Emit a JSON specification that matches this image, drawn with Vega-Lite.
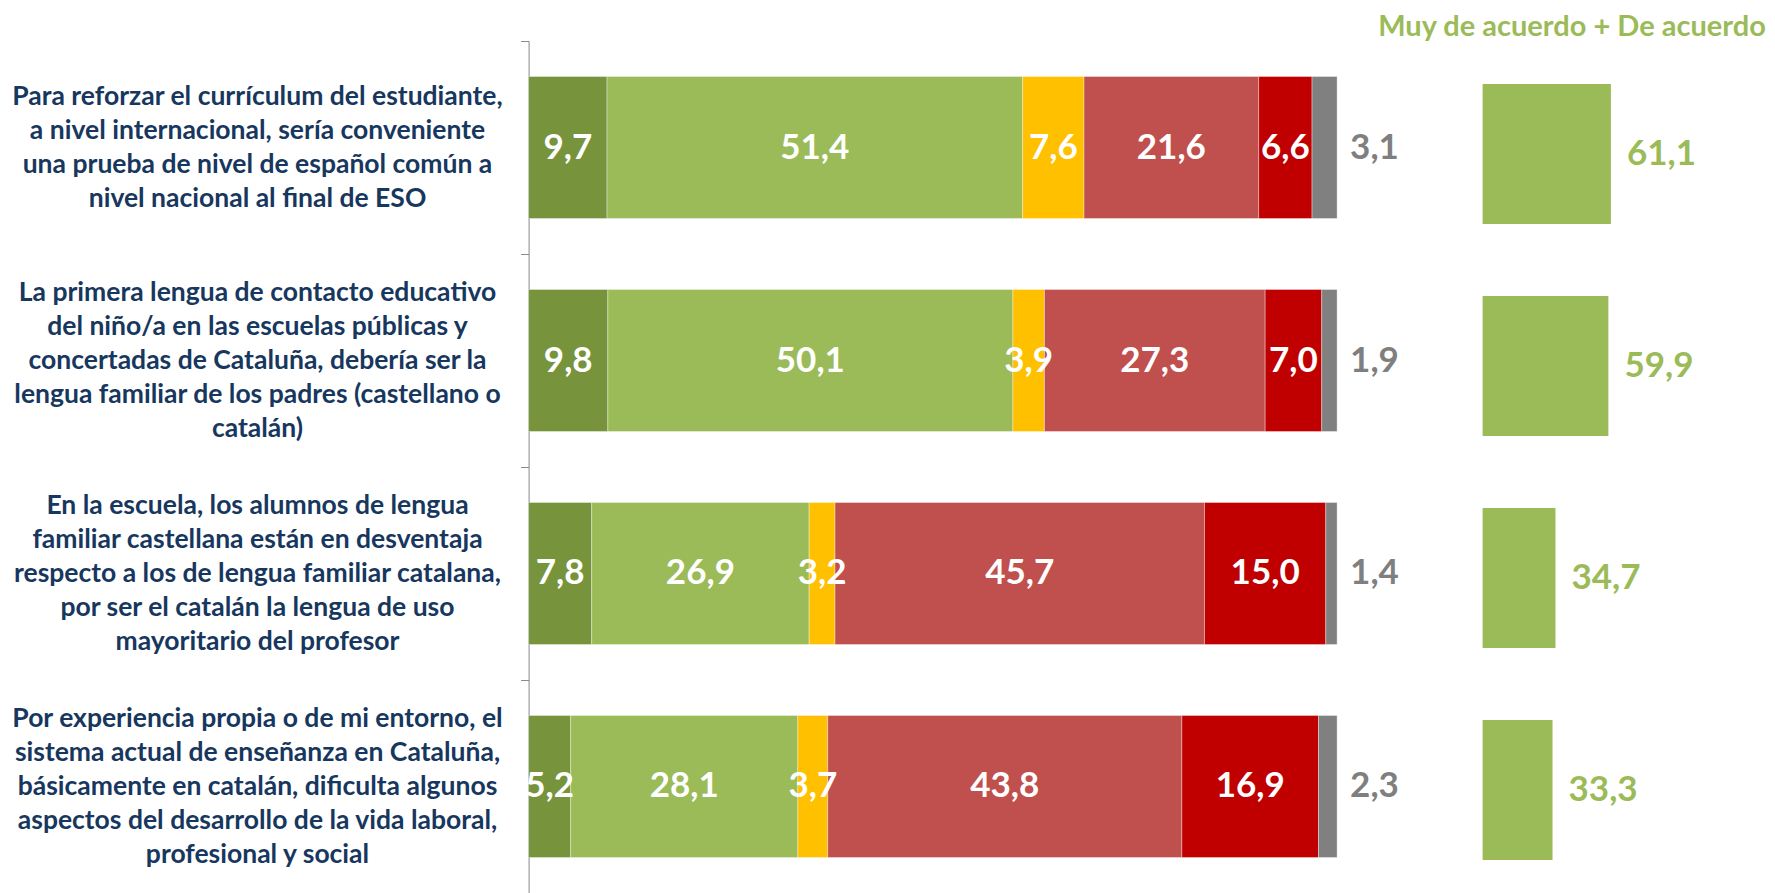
{
  "$schema": "https://vega.github.io/schema/vega-lite/v6.json",
  "autosize": {"type": "none"},
  "width": 808.5,
  "height": 852,
  "padding": {"left": 528.6, "top": 41, "right": 437.9, "bottom": 0},
  "background": "#ffffff",
  "config": {
    "view": {"stroke": null},
    "axis": {"grid": false},
    "locale": {"number": {"decimal": ",", "thousands": ".", "grouping": [3], "currency": ["", " €"]}}
  },
  "datasets": {
    "main": [
      {"item": "Para reforzar el currículum del estudiante,|a nivel internacional, sería conveniente|una prueba de nivel de español común a|nivel nacional al final de ESO", "cat": "Muy de acuerdo", "k": 1, "value": 9.7},
      {"item": "Para reforzar el currículum del estudiante,|a nivel internacional, sería conveniente|una prueba de nivel de español común a|nivel nacional al final de ESO", "cat": "De acuerdo", "k": 2, "value": 51.4},
      {"item": "Para reforzar el currículum del estudiante,|a nivel internacional, sería conveniente|una prueba de nivel de español común a|nivel nacional al final de ESO", "cat": "Ni de acuerdo ni en desacuerdo", "k": 3, "value": 7.6},
      {"item": "Para reforzar el currículum del estudiante,|a nivel internacional, sería conveniente|una prueba de nivel de español común a|nivel nacional al final de ESO", "cat": "En desacuerdo", "k": 4, "value": 21.6},
      {"item": "Para reforzar el currículum del estudiante,|a nivel internacional, sería conveniente|una prueba de nivel de español común a|nivel nacional al final de ESO", "cat": "Muy en desacuerdo", "k": 5, "value": 6.6},
      {"item": "Para reforzar el currículum del estudiante,|a nivel internacional, sería conveniente|una prueba de nivel de español común a|nivel nacional al final de ESO", "cat": "NS/NC", "k": 6, "value": 3.1},
      {"item": "La primera lengua de contacto educativo|del niño/a en las escuelas públicas y|concertadas de Cataluña, debería ser la|lengua familiar de los padres (castellano o|catalán)", "cat": "Muy de acuerdo", "k": 1, "value": 9.8},
      {"item": "La primera lengua de contacto educativo|del niño/a en las escuelas públicas y|concertadas de Cataluña, debería ser la|lengua familiar de los padres (castellano o|catalán)", "cat": "De acuerdo", "k": 2, "value": 50.1},
      {"item": "La primera lengua de contacto educativo|del niño/a en las escuelas públicas y|concertadas de Cataluña, debería ser la|lengua familiar de los padres (castellano o|catalán)", "cat": "Ni de acuerdo ni en desacuerdo", "k": 3, "value": 3.9},
      {"item": "La primera lengua de contacto educativo|del niño/a en las escuelas públicas y|concertadas de Cataluña, debería ser la|lengua familiar de los padres (castellano o|catalán)", "cat": "En desacuerdo", "k": 4, "value": 27.3},
      {"item": "La primera lengua de contacto educativo|del niño/a en las escuelas públicas y|concertadas de Cataluña, debería ser la|lengua familiar de los padres (castellano o|catalán)", "cat": "Muy en desacuerdo", "k": 5, "value": 7.0},
      {"item": "La primera lengua de contacto educativo|del niño/a en las escuelas públicas y|concertadas de Cataluña, debería ser la|lengua familiar de los padres (castellano o|catalán)", "cat": "NS/NC", "k": 6, "value": 1.9},
      {"item": "En la escuela, los alumnos de lengua|familiar castellana están en desventaja|respecto a los de lengua familiar catalana,|por ser el catalán la lengua de uso|mayoritario del profesor", "cat": "Muy de acuerdo", "k": 1, "value": 7.8},
      {"item": "En la escuela, los alumnos de lengua|familiar castellana están en desventaja|respecto a los de lengua familiar catalana,|por ser el catalán la lengua de uso|mayoritario del profesor", "cat": "De acuerdo", "k": 2, "value": 26.9},
      {"item": "En la escuela, los alumnos de lengua|familiar castellana están en desventaja|respecto a los de lengua familiar catalana,|por ser el catalán la lengua de uso|mayoritario del profesor", "cat": "Ni de acuerdo ni en desacuerdo", "k": 3, "value": 3.2},
      {"item": "En la escuela, los alumnos de lengua|familiar castellana están en desventaja|respecto a los de lengua familiar catalana,|por ser el catalán la lengua de uso|mayoritario del profesor", "cat": "En desacuerdo", "k": 4, "value": 45.7},
      {"item": "En la escuela, los alumnos de lengua|familiar castellana están en desventaja|respecto a los de lengua familiar catalana,|por ser el catalán la lengua de uso|mayoritario del profesor", "cat": "Muy en desacuerdo", "k": 5, "value": 15.0},
      {"item": "En la escuela, los alumnos de lengua|familiar castellana están en desventaja|respecto a los de lengua familiar catalana,|por ser el catalán la lengua de uso|mayoritario del profesor", "cat": "NS/NC", "k": 6, "value": 1.4},
      {"item": "Por experiencia propia o de mi entorno, el|sistema actual de enseñanza en Cataluña,|básicamente en catalán, dificulta algunos|aspectos del desarrollo de la vida laboral,|profesional y social", "cat": "Muy de acuerdo", "k": 1, "value": 5.2},
      {"item": "Por experiencia propia o de mi entorno, el|sistema actual de enseñanza en Cataluña,|básicamente en catalán, dificulta algunos|aspectos del desarrollo de la vida laboral,|profesional y social", "cat": "De acuerdo", "k": 2, "value": 28.1},
      {"item": "Por experiencia propia o de mi entorno, el|sistema actual de enseñanza en Cataluña,|básicamente en catalán, dificulta algunos|aspectos del desarrollo de la vida laboral,|profesional y social", "cat": "Ni de acuerdo ni en desacuerdo", "k": 3, "value": 3.7},
      {"item": "Por experiencia propia o de mi entorno, el|sistema actual de enseñanza en Cataluña,|básicamente en catalán, dificulta algunos|aspectos del desarrollo de la vida laboral,|profesional y social", "cat": "En desacuerdo", "k": 4, "value": 43.8},
      {"item": "Por experiencia propia o de mi entorno, el|sistema actual de enseñanza en Cataluña,|básicamente en catalán, dificulta algunos|aspectos del desarrollo de la vida laboral,|profesional y social", "cat": "Muy en desacuerdo", "k": 5, "value": 16.9},
      {"item": "Por experiencia propia o de mi entorno, el|sistema actual de enseñanza en Cataluña,|básicamente en catalán, dificulta algunos|aspectos del desarrollo de la vida laboral,|profesional y social", "cat": "NS/NC", "k": 6, "value": 2.3}
    ],
    "agree": [
      {"item": "Para reforzar el currículum del estudiante,|a nivel internacional, sería conveniente|una prueba de nivel de español común a|nivel nacional al final de ESO", "agree": 61.1},
      {"item": "La primera lengua de contacto educativo|del niño/a en las escuelas públicas y|concertadas de Cataluña, debería ser la|lengua familiar de los padres (castellano o|catalán)", "agree": 59.9},
      {"item": "En la escuela, los alumnos de lengua|familiar castellana están en desventaja|respecto a los de lengua familiar catalana,|por ser el catalán la lengua de uso|mayoritario del profesor", "agree": 34.7},
      {"item": "Por experiencia propia o de mi entorno, el|sistema actual de enseñanza en Cataluña,|básicamente en catalán, dificulta algunos|aspectos del desarrollo de la vida laboral,|profesional y social", "agree": 33.3}
    ]
  },
  "layer": [
    {
      "data": {"name": "main"},
      "transform": [
        {"stack": "value", "groupby": ["item"], "sort": [{"field": "k", "order": "ascending"}], "as": ["x0", "x1"]},
        {"calculate": "(datum.x0 + datum.x1) / 2", "as": "xm"}
      ],
      "encoding": {
        "y": {
          "field": "item", "type": "nominal", "sort": null,
          "scale": {"paddingInner": 0.3333, "paddingOuter": 0.1667},
          "axis": {
            "title": null,
            "labelExpr": "split(datum.label, '|')",
            "labelAlign": "center",
            "labelBaseline": "middle",
            "labelPadding": 263.6,
            "labelLimit": 1000,
            "tickSize": 8,
            "bandPosition": 0,
            "tickOffset": -35.5,
            "labelOffset": {"condition": {"test": "length(split(datum.value, '|')) == 4", "value": -15.5}, "value": -32.5},
            "domainColor": "#898989",
            "tickColor": "#898989",
            "labelFont": "Lato",
            "labelFontWeight": "bold",
            "labelFontSize": 26.5,
            "labelColor": "#17375E",
            "labelLineHeight": 34
          }
        }
      },
      "layer": [
        {
          "mark": {"type": "bar", "stroke": "#ffffff", "strokeWidth": 0.6, "strokeOpacity": 0.6},
          "encoding": {
            "x": {"field": "x0", "type": "quantitative", "scale": {"domain": [0, 100], "nice": false, "zero": true}, "axis": null},
            "x2": {"field": "x1"},
            "color": {
              "field": "cat", "type": "nominal", "legend": null,
              "scale": {
                "domain": ["Muy de acuerdo", "De acuerdo", "Ni de acuerdo ni en desacuerdo", "En desacuerdo", "Muy en desacuerdo", "NS/NC"],
                "range": ["#77933C", "#9BBB59", "#FFC000", "#C0504D", "#C00000", "#808080"]
              }
            }
          }
        },
        {
          "transform": [{"filter": "datum.k <= 5"}],
          "mark": {"type": "text", "font": "Lato", "fontWeight": "bold", "fontSize": 35, "color": "#ffffff", "align": "center", "baseline": "middle"},
          "encoding": {
            "x": {"field": "xm", "type": "quantitative"},
            "text": {"field": "value", "type": "quantitative", "format": ".1f"}
          }
        },
        {
          "transform": [{"filter": "datum.k == 6"}],
          "mark": {"type": "text", "font": "Lato", "fontWeight": "bold", "fontSize": 35, "color": "#7F7F7F", "align": "left", "baseline": "middle", "dx": 13},
          "encoding": {
            "x": {"field": "x1", "type": "quantitative"},
            "text": {"field": "value", "type": "quantitative", "format": ".1f"}
          }
        }
      ]
    },
    {
      "data": {"name": "agree"},
      "encoding": {
        "y": {
          "field": "item", "type": "nominal", "sort": null,
          "scale": {"range": [7, 855], "paddingInner": 0.34, "paddingOuter": 0.17},
          "axis": null
        },
        "x": {
          "field": "agree", "type": "quantitative",
          "scale": {"domain": [0, 100], "range": [954, 1164], "nice": false},
          "axis": {
            "orient": "top",
            "domain": false,
            "ticks": false,
            "labels": false,
            "title": "Muy de acuerdo + De acuerdo",
            "titleFont": "Lato",
            "titleFontWeight": "bold",
            "titleFontSize": 29,
            "titleColor": "#9BBB59",
            "titleX": 1042.9,
            "titleY": -6,
            "titleAlign": "center",
            "titleBaseline": "alphabetic"
          }
        }
      },
      "layer": [
        {"mark": {"type": "bar", "color": "#9BBB59"}},
        {
          "mark": {"type": "text", "font": "Lato", "fontWeight": "bold", "fontSize": 35, "color": "#9BBB59", "align": "left", "baseline": "middle", "dx": 16},
          "encoding": {"text": {"field": "agree", "type": "quantitative", "format": ".1f"}}
        }
      ]
    }
  ],
  "resolve": {"scale": {"x": "independent", "y": "independent"}}
}
